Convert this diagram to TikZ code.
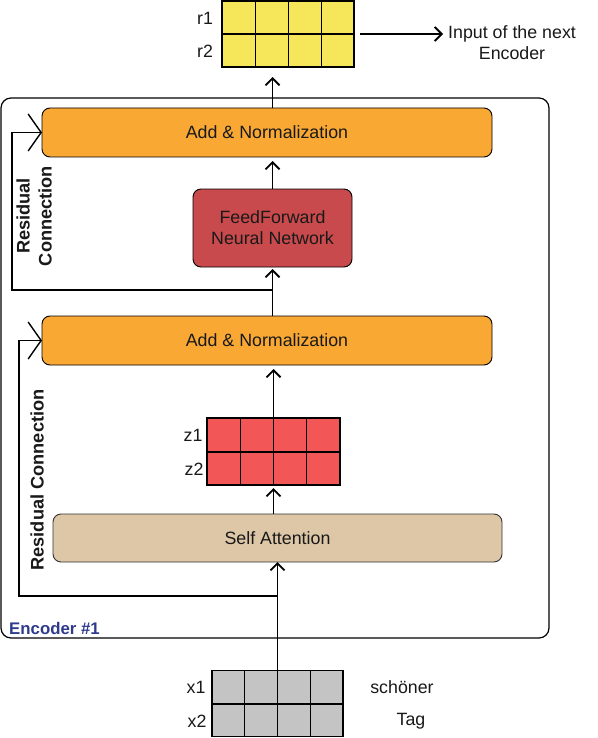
\documentclass[tikz,border=0pt]{standalone}
\usepackage{fontspec}
\setmainfont{Liberation Sans}
\usetikzlibrary{arrows.meta,calc}
\definecolor{orangeN}{RGB}{249,168,52}
\definecolor{ffnred}{RGB}{201,74,76}
\definecolor{zred}{RGB}{243,86,87}
\definecolor{ryellow}{RGB}{246,230,90}
\definecolor{xgray}{RGB}{196,196,196}
\definecolor{sabeige}{RGB}{222,199,166}
\definecolor{encblue}{RGB}{46,58,140}
\definecolor{txt}{RGB}{25,25,25}
\newcommand\gridcells[1]{%
  \foreach \f in {0.25,0.5,0.75}{%
    \draw[line width=0.9pt] ($(#1.north west)!\f!(#1.north east)$) -- ($(#1.south west)!\f!(#1.south east)$);}
  \draw[line width=2pt] (#1.west) -- (#1.east);
  \draw[line width=1.3pt] (#1.north west) rectangle (#1.south east);}
\begin{document}
\begin{tikzpicture}[x=1pt,y=-1pt,font=\fontsize{17.8}{21}\selectfont]
\tikzset{
  box/.style={draw=black, line width=0.9pt, rounded corners=8pt, inner sep=0pt, outer sep=0pt, align=center, text=txt},
  grid/.style={inner sep=0pt, outer sep=0pt},
  arr/.style={line width=1.9pt, -{Straight Barb[length=7pt,width=14pt]}},
  res/.style={line width=1.8pt, -{Straight Barb[length=13pt,width=37pt,line width=1.4pt]}},
  lbl/.style={inner sep=0pt, text=txt},
  rlbl/.style={inner sep=0pt, text=txt, rotate=90, align=center, font=\bfseries\fontsize{18.2}{22}\selectfont},
}
\useasboundingbox (0,0) rectangle (597,738);
% encoder frame
\node[draw=black, line width=1.2pt, rounded corners=10pt, minimum width=548pt, minimum height=540pt, inner sep=0pt] (enc) at (275,368) {};
\node[lbl, anchor=west, text=encblue, font=\bfseries\fontsize{16.8}{20}\selectfont] (enclbl) at (9,628) {Encoder \#1};
% blocks
\node[box, fill=orangeN, minimum width=450pt, minimum height=49pt] (an2) at (267,132.5) {Add \& Normalization};
\node[box, fill=ffnred, minimum width=159pt, minimum height=78pt] (ffn) at (272.5,228) {FeedForward\\Neural Network};
\node[box, fill=orangeN, minimum width=450pt, minimum height=49pt] (an1) at (267,340.5) {Add \& Normalization};
\node[box, draw=black!80, fill=sabeige, minimum width=449pt, minimum height=48pt] (sa) at (277.5,538) {Self Attention};
% grids
\node[grid, fill=ryellow, minimum width=132pt, minimum height=66pt] (rg) at (288,34) {};
\gridcells{rg}
\node[grid, fill=zred, minimum width=133pt, minimum height=67pt] (zg) at (273.5,451.5) {};
\gridcells{zg}
\node[grid, fill=xgray, minimum width=131pt, minimum height=66pt] (xg) at (277.5,703.5) {};
\gridcells{xg}
% grid labels
\node[lbl] (r1) at (205,18) {r1};
\node[lbl] (r2) at (205,51) {r2};
\node[lbl] (z1) at (193,435) {z1};
\node[lbl] (z2) at (194,469) {z2};
\node[lbl] (x1) at (196,687) {x1};
\node[lbl] (x2) at (197,721) {x2};
\node[lbl] (w1) at (402,687) {schöner};
\node[lbl] (w2) at (411,721) {Tag};
\node[lbl, align=center, anchor=west] (nxt) at (448,43) {Input of the next\\Encoder};
% residual labels
\node[rlbl] (rl2) at (34,216) {Residual\\Connection};
\node[rlbl] (rl1) at (37,480) {Residual Connection};
% connectors
\coordinate (j1) at (277.5,596);
\coordinate (j2) at (272.5,290);
\draw[arr] (xg.north) -- (sa.south);
\draw[res] (j1) -| ($(an1.west)+(-23,0)$) -- (an1.west);
\draw[arr, shorten >=3pt] (sa.north -| zg.south) -- (zg.south);
\draw[arr, shorten >=4pt] (zg.north) -- (zg.north |- an1.south);
\draw[arr, shorten >=2pt] (an1.north -| ffn.south) -- (ffn.south);
\draw[res] (j2) -| ($(an2.west)+(-30,0)$) -- (an2.west);
\draw[arr, shorten >=4pt] (ffn.north) -- (ffn.north |- an2.south);
\coordinate (t) at (an2.north -| ffn.north);
\draw[arr, shorten >=10pt] (t) -- (t |- rg.south);
\draw[arr, shorten <=6pt, shorten >=5pt] (rg.east) -- (rg.east -| nxt.west);
\end{tikzpicture}
\end{document}
